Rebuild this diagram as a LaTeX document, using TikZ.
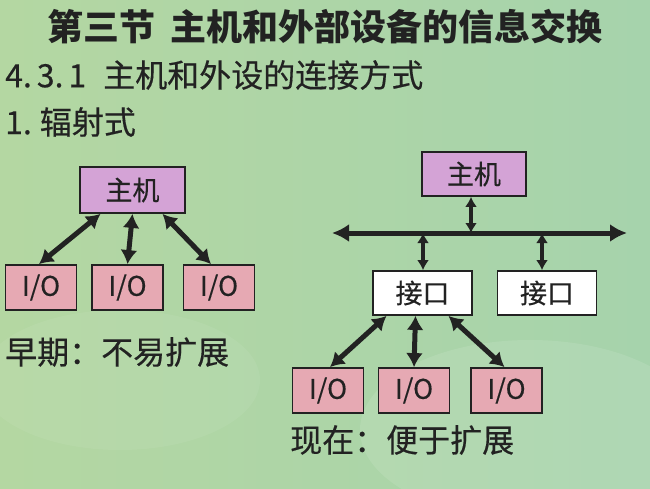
\documentclass[tikz,border=0pt]{standalone}
\usepackage{fontspec}
\setmainfont[FakeBold=0.4]{Noto Sans CJK SC}
\newfontfamily\titlefont{Noto Sans CJK SC}
\usetikzlibrary{arrows.meta}
\definecolor{bgA}{HTML}{B4D7A2}
\definecolor{bgB}{HTML}{A6D3AC}
\definecolor{hostfill}{HTML}{D4A3D6}
\definecolor{iofill}{HTML}{E6A9B3}
\definecolor{ink}{HTML}{222222}
\tikzset{
  box/.style={draw=ink, line width=1.8pt, inner sep=0pt, font=\fontsize{27}{27}\selectfont, text=ink},
  hostbox/.style={box, fill=hostfill},
  iobox/.style={box, fill=iofill, minimum width=71pt, minimum height=45pt},
  ifbox/.style={box, fill=white, minimum width=99pt, minimum height=44pt},
  link/.style={draw=ink, line width=5pt, {Latex[length=14pt,width=17pt]}-{Latex[length=14pt,width=17pt]}},
  slink/.style={draw=ink, line width=3.5pt, {Latex[length=10pt,width=12pt]}-{Latex[length=10pt,width=12pt]}},
  txt/.style={anchor=west, inner sep=0pt, text=ink, font=\fontsize{32}{32}\selectfont}
}
\begin{document}
\begin{tikzpicture}[x=1pt,y=-1pt]
\useasboundingbox (0,0) rectangle (650,488);
\shade[left color=bgA, right color=bgB] (0,0) rectangle (650,488);
\fill[white, opacity=0.10] (530,430) ellipse (170 and 90);
\fill[white, opacity=0.06] (120,380) ellipse (140 and 70);
% texts
\node[anchor=center, inner sep=0pt, text=ink, font=\fontsize{36}{36}\selectfont\titlefont\bfseries] (title) at (325,27) {第三节\hspace{0.4em}主机和外部设备的信息交换};
\node[txt] (sub) at (5,75) {4.\kern5pt3.\kern5pt1\hspace{17pt}主机和外设的连接方式};
\node[txt] (item) at (5,122) {1.\hspace{8pt}辐射式};
% left diagram
\node[hostbox, minimum width=105pt, minimum height=46pt] (hL) at (132.5,190) {主机};
\node[iobox] (l1) at (41,287.5) {I/O};
\node[iobox] (l2) at (127.5,287.5) {I/O};
\node[iobox] (l3) at (219,287.5) {I/O};
\draw[link] ([xshift=-32pt]hL.south) -- ([xshift=-2pt]l1.north);
\draw[link] (hL.south) -- (l2.north);
\draw[link] ([xshift=30pt]hL.south) -- ([xshift=-8pt]l3.north);
\node[txt] (early) at (5,352) {早期：不易扩展};
% right diagram
\node[hostbox, minimum width=104pt, minimum height=44pt] (hR) at (474,174) {主机};
\coordinate (busL) at (332,233);
\coordinate (busR) at (627,233);
\draw[draw=ink, line width=5pt, {Latex[length=17pt,width=18pt]}-{Latex[length=17pt,width=18pt]}] (busL) -- (busR);
\coordinate (bh) at (471,233);
\coordinate (b1) at (423,233);
\coordinate (b2) at (542,233);
\node[ifbox] (i1) at (422.5,293) {接口};
\node[ifbox] (i2) at (547,293) {接口};
\draw[slink] (hR.south -| bh) -- (bh);
\draw[slink] (b1) -- (i1.north -| b1);
\draw[slink] (b2) -- (i2.north -| b2);
\node[iobox] (r1) at (328,390.5) {I/O};
\node[iobox] (r2) at (414,390.5) {I/O};
\node[iobox] (r3) at (506.5,390.5) {I/O};
\draw[link] ([xshift=-36pt]i1.south) -- ([xshift=2pt]r1.north);
\draw[link] ([xshift=-7pt]i1.south) -- (r2.north);
\draw[link] ([xshift=26pt]i1.south) -- ([xshift=-2pt]r3.north);
\node[txt] (now) at (290,440) {现在：便于扩展};
\end{tikzpicture}
\end{document}
